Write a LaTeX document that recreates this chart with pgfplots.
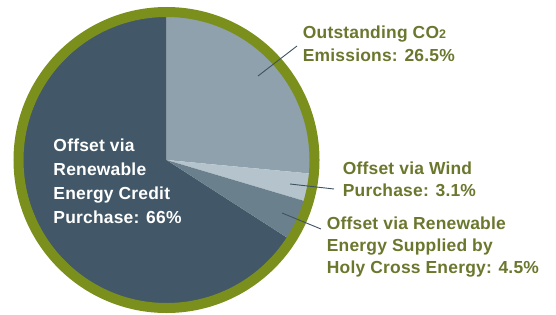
\documentclass[border=0pt]{standalone}
\usepackage{pgfplots}
\pgfplotsset{compat=1.18}
\usepackage{pgfplotstable}
\usepackage{fontspec}
\setmainfont{Liberation Sans}[LetterSpace=1.2]
\definecolor{cOut}{HTML}{8EA1AD}
\definecolor{cWind}{HTML}{B5C3CC}
\definecolor{cHoly}{HTML}{6B808D}
\definecolor{cRec}{HTML}{425868}
\definecolor{ring}{HTML}{7B8F1D}
\definecolor{olive}{HTML}{6A772D}
\definecolor{lead}{HTML}{3F5262}

\pgfplotstableread{
label value
Outstanding 26.5
Wind 3.1
Holy 4.5
REC 66
}\piedata
\pgfplotstablegetelem{0}{value}\of\piedata \let\vA\pgfplotsretval
\pgfplotstablegetelem{1}{value}\of\piedata \let\vB\pgfplotsretval
\pgfplotstablegetelem{2}{value}\of\piedata \let\vC\pgfplotsretval
\pgfplotstablegetelem{3}{value}\of\piedata \let\vD\pgfplotsretval
\pgfmathsetmacro\aA{90}
\pgfmathsetmacro\aB{\aA-3.6*\vA}
\pgfmathsetmacro\aC{\aB-3.6*\vB}
\pgfmathsetmacro\aD{\aC-3.6*\vC}
\pgfmathsetmacro\aE{90-360}
\newcommand\lab{\fontsize{17.5}{21}\selectfont\bfseries}

\begin{document}%
\begin{tikzpicture}
\begin{axis}[x=1bp, y=1bp, xmin=0, xmax=556, ymin=0, ymax=314,
  hide axis, enlargelimits=false, clip=false]
% wedges
\fill[cRec] (axis cs:166.5,154) -- ++(\aD:143.5bp) arc[start angle=\aD, end angle=\aE, radius=143.5bp] -- cycle;
\fill[cOut] (axis cs:166.5,154) -- ++(\aA:143.5bp) arc[start angle=\aA, end angle=\aB, radius=143.5bp] -- cycle;
\fill[cWind] (axis cs:166.5,154) -- ++(\aB:143.5bp) arc[start angle=\aB, end angle=\aC, radius=143.5bp] -- cycle;
\fill[cHoly] (axis cs:166.5,154) -- ++(\aC:143.5bp) arc[start angle=\aC, end angle=\aD, radius=143.5bp] -- cycle;
\draw[ring, line width=10bp] (axis cs:166.5,154) circle[radius=148bp];
% leader lines
\draw[lead, line width=0.9bp] (axis cs:258,238) -- (axis cs:297,268);
\draw[lead, line width=0.9bp] (axis cs:290,130) -- (axis cs:334,125);
\draw[lead, line width=0.9bp] (axis cs:282,101) -- (axis cs:321,85);
% labels
\begin{scope}[every node/.style={anchor=base west, inner sep=0pt, font=\lab}]
\node[olive] at (axis cs:302.7,275.7) {Outstanding CO\raisebox{-0.5bp}{\fontsize{12.5}{12.5}\selectfont 2}};
\node[olive] at (axis cs:302.7,252.3) {Emissions: 26.5\%};
\node[olive] at (axis cs:342.7,140) {Offset via Wind};
\node[olive] at (axis cs:342.7,118) {Purchase: 3.1\%};
\node[olive] at (axis cs:326.7,84.7) {Offset via Renewable};
\node[olive] at (axis cs:326.7,62.3) {Energy Supplied by};
\node[olive] at (axis cs:326.7,41) {Holy Cross Energy: 4.5\%};
\node[white] at (axis cs:53.3,162.3) {Offset via};
\node[white] at (axis cs:53.3,139) {Renewable};
\node[white] at (axis cs:53.3,115) {Energy Credit};
\node[white] at (axis cs:53.3,90.7) {Purchase: 66\%};
\end{scope}
\end{axis}
\pgfresetboundingbox
\useasboundingbox (current axis.south west) rectangle (current axis.north east);
\end{tikzpicture}%
\end{document}
